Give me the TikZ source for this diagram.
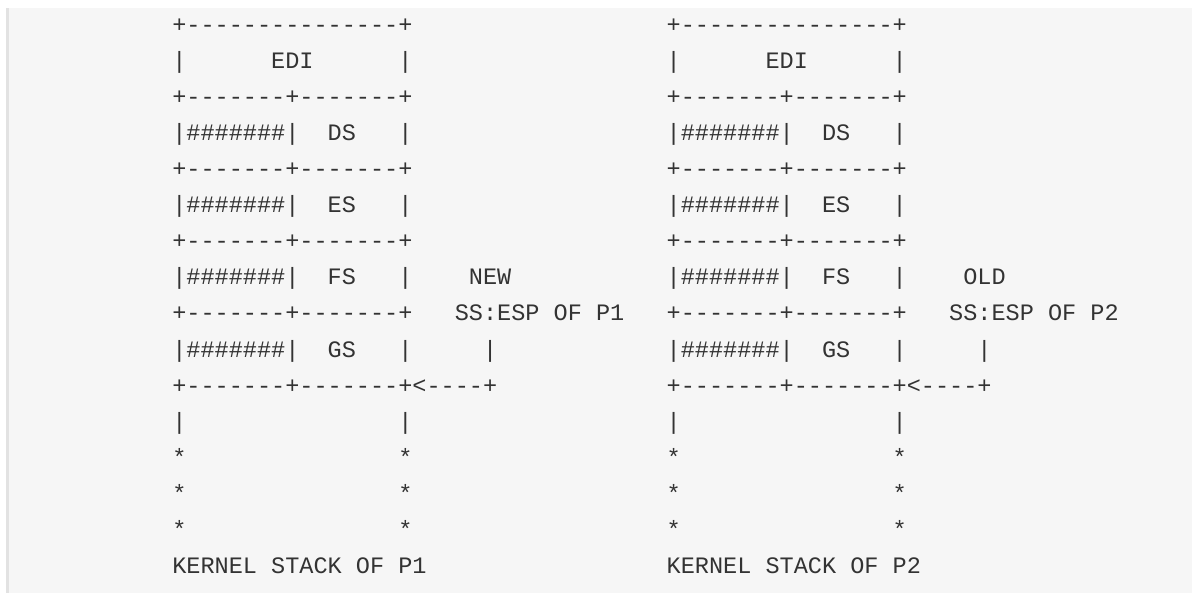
\documentclass[tikz,border=0pt]{standalone}
\usepackage{fontspec}
\setmonofont{Liberation Mono}
\definecolor{codebg}{HTML}{F6F6F6}
\definecolor{codeborder}{HTML}{E2E2E2}
\definecolor{codefg}{HTML}{333333}
\tikzset{asc/.style={anchor=base west, inner sep=0pt, outer sep=0pt, text=codefg,
  font=\ttfamily\fontsize{23.54}{28}\selectfont}}
\newcommand\asc[4]{\node[asc] (#1) at ({172.3+14.125*(#2)},{32.2+36.1*(#3)}) {#4};}
\newcommand\stackblk[4]{%
  \asc{#1r0}{#2}{0}{+---------------+}
  \asc{#1r1a}{#2}{1}{|}
  \asc{#1edi}{#2+7}{1}{EDI}
  \asc{#1r1b}{#2+16}{1}{|}
  \asc{#1r2}{#2}{2}{+-------+-------+}
  \asc{#1r3}{#2}{3}{|\#\#\#\#\#\#\#|}
  \asc{#1ds}{#2+11}{3}{DS}
  \asc{#1r3b}{#2+16}{3}{|}
  \asc{#1r4}{#2}{4}{+-------+-------+}
  \asc{#1r5}{#2}{5}{|\#\#\#\#\#\#\#|}
  \asc{#1es}{#2+11}{5}{ES}
  \asc{#1r5b}{#2+16}{5}{|}
  \asc{#1r6}{#2}{6}{+-------+-------+}
  \asc{#1r7}{#2}{7}{|\#\#\#\#\#\#\#|}
  \asc{#1fs}{#2+11}{7}{FS}
  \asc{#1r7b}{#2+16}{7}{|}
  \asc{#1tag}{#2+21}{7}{#3}
  \asc{#1r8}{#2}{8}{+-------+-------+}
  \asc{#1ss}{#2+20}{8}{SS:ESP\ OF\ #4}
  \asc{#1r9}{#2}{9}{|\#\#\#\#\#\#\#|}
  \asc{#1gs}{#2+11}{9}{GS}
  \asc{#1r9b}{#2+16}{9}{|}
  \asc{#1r9c}{#2+22}{9}{|}
  \asc{#1r10}{#2}{10}{+-------+-------+<----+}
  \asc{#1r11a}{#2}{11}{|}
  \asc{#1r11b}{#2+16}{11}{|}
  \asc{#1r12a}{#2}{12}{*}
  \asc{#1r12b}{#2+16}{12}{*}
  \asc{#1r13a}{#2}{13}{*}
  \asc{#1r13b}{#2+16}{13}{*}
  \asc{#1r14a}{#2}{14}{*}
  \asc{#1r14b}{#2+16}{14}{*}
  \asc{#1ks}{#2}{15}{KERNEL\ STACK\ OF\ #4}
}
\begin{document}
\begin{tikzpicture}[x=1pt,y=-1pt]
\useasboundingbox (0,0) rectangle (1192,593);
\fill[white] (0,0) rectangle (1192,593);
\fill[codebg] (6,8) rectangle (1192,593);
\fill[codeborder] (6,8) rectangle (9,593);
\stackblk{L}{0}{NEW}{P1}
\stackblk{R}{35}{OLD}{P2}
\end{tikzpicture}
\end{document}
